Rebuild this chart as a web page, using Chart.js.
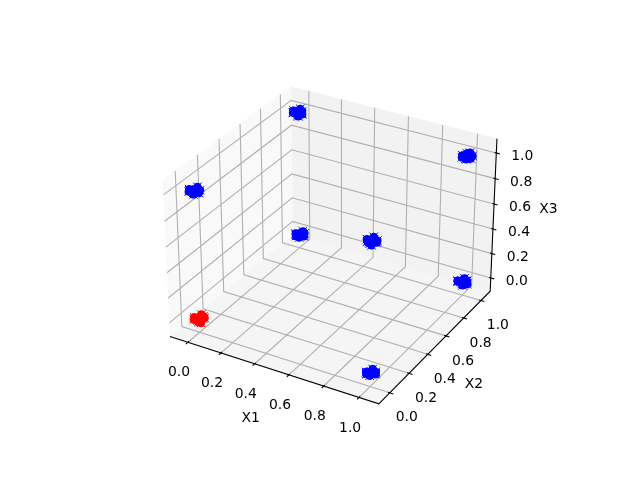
<!DOCTYPE html>
<html>
<head>
<meta charset="utf-8">
<style>
  html, body { margin: 0; padding: 0; background: #fff; }
  canvas { display: block; }
</style>
<script src="https://cdn.jsdelivr.net/npm/chart.js@4/dist/chart.umd.min.js"></script>
</head>
<body>
<canvas id="myChart" width="640" height="480"></canvas>
<script>
// values, one row per cluster
const redX1 = [0.00, 0.02, -0.02, 0.01, -0.01, 0.02, -0.02, 0.00, 0.01, -0.01, 0.02, -0.02, 0.00, 0.015];
const redX2 = [0.00, 0.01, 0.01, 0.02, -0.02, -0.015, -0.015, 0.02, -0.02, 0.00, 0.02, -0.02, -0.01, 0.00];
const redX3 = [0.00, 0.02, -0.02, -0.01, 0.01, -0.015, 0.015, 0.02, 0.02, -0.02, 0.00, 0.00, -0.02, 0.015];

const blueX1 = [
  0.01, 0.02, -0.02, 0.00, -0.015, 0.02, -0.02, 0.005, 0.015, -0.01, 0.02, -0.02, 0.00, 0.01,
  -0.01, 0.02, -0.015, 0.01, -0.02, 0.015, -0.02, 0.00, 0.02, -0.005, 0.01, -0.02, 0.005, 0.015,
  0.00, 0.02, -0.02, 0.015, -0.01, 0.02, -0.015, 0.01, 0.005, -0.02, 0.02, -0.01, 0.00, 0.01,
  1.00, 1.02, 0.98, 1.01, 0.99, 1.02, 0.98, 1.00, 1.015, 0.99, 1.02, 0.985, 1.005, 1.01,
  1.01, 1.02, 0.98, 1.00, 0.985, 1.015, 0.98, 1.005, 1.02, 0.99, 1.02, 0.98, 1.00, 0.995,
  0.99, 1.02, 0.985, 1.01, 0.98, 1.02, 0.98, 1.00, 1.01, 0.995, 1.015, 0.98, 1.005, 1.02,
  1.00, 1.015, 0.98, 1.02, 0.99, 1.02, 0.985, 1.005, 1.01, 0.98, 1.02, 0.99, 1.00, 1.01
];
const blueX2 = [
  0.00, -0.01, 0.015, 0.02, -0.02, 0.01, -0.015, 0.02, -0.02, 0.005, 0.02, -0.02, -0.01, 0.00,
  1.01, 0.99, 1.02, 1.02, 0.98, 1.015, 0.985, 1.02, 0.98, 1.00, 1.02, 0.98, 0.99, 1.00,
  1.00, 0.99, 1.01, 1.02, 0.98, 1.015, 0.985, 1.02, 0.98, 1.005, 1.02, 0.98, 0.995, 1.01,
  0.00, -0.015, 0.01, 0.02, -0.02, 0.015, -0.01, 0.02, -0.02, 0.00, 0.02, -0.015, -0.01, 0.005,
  1.00, 0.99, 1.015, 1.02, 0.98, 1.01, 0.985, 1.02, 0.985, 1.00, 1.02, 0.98, 0.99, 1.005,
  1.01, 0.99, 1.01, 1.02, 0.98, 1.015, 0.98, 1.02, 0.98, 1.00, 1.02, 0.985, 0.99, 1.00,
  0.01, -0.01, 0.01, 0.02, -0.02, 0.015, -0.015, 0.015, -0.02, 0.00, 0.02, -0.02, -0.005, 0.00
];
const blueX3 = [
  1.00, 1.02, 0.98, 0.99, 1.01, 0.985, 1.015, 1.02, 1.02, 0.98, 1.00, 1.00, 0.98, 1.015,
  1.00, 1.02, 0.98, 0.99, 1.01, 0.985, 1.02, 1.02, 1.015, 0.98, 1.00, 1.005, 0.98, 1.01,
  0.00, 0.015, -0.02, -0.01, 0.01, -0.015, 0.015, 0.02, 0.02, -0.02, 0.005, 0.00, -0.02, 0.01,
  1.00, 1.02, 0.98, 0.985, 1.01, 0.99, 1.015, 1.02, 1.02, 0.98, 1.00, 1.005, 0.98, 1.015,
  1.005, 1.02, 0.98, 0.99, 1.015, 0.985, 1.01, 1.02, 1.015, 0.98, 1.00, 1.00, 0.985, 1.02,
  0.00, 0.02, -0.015, -0.01, 0.01, -0.02, 0.015, 0.015, 0.02, -0.02, 0.00, 0.005, -0.02, 0.015,
  0.00, 0.02, -0.02, -0.01, 0.015, -0.015, 0.01, 0.02, 0.02, -0.015, 0.00, 0.00, -0.02, 0.01
];

const tickValues = [0.0, 0.2, 0.4, 0.6, 0.8, 1.0];
const tickLabels = ["0.0", "0.2", "0.4", "0.6", "0.8", "1.0"];
const x1Limits = [-0.11, 1.11];
const x2Limits = [-0.11, 1.11];
const x3Limits = [-0.11, 1.11];

// 3d view, same maths as a mplot3d camera at elev 30, azim -60
const box = [1.143, 1.143, 0.857];
const dist = 10;
const viewScale = 2141;
const viewX = 333.2;
const viewY = 237.8;
const camN = [0.4330127, -0.75, 0.5];
const camU = [0.8660254, 0.5, 0];
const camV = [-0.25, 0.4330127, 0.8660254];

function project(x1, x2, x3) {
  var d = [
    ((x1 - x1Limits[0]) / (x1Limits[1] - x1Limits[0]) - 0.5) * box[0],
    ((x2 - x2Limits[0]) / (x2Limits[1] - x2Limits[0]) - 0.5) * box[1],
    ((x3 - x3Limits[0]) / (x3Limits[1] - x3Limits[0]) - 0.5) * box[2]
  ];
  var depth = dist - (camN[0] * d[0] + camN[1] * d[1] + camN[2] * d[2]);
  var u = camU[0] * d[0] + camU[1] * d[1] + camU[2] * d[2];
  var v = camV[0] * d[0] + camV[1] * d[1] + camV[2] * d[2];
  return { x: viewX + viewScale * u / depth, y: viewY - viewScale * v / depth };
}

const x1a = x1Limits[0], x1b = x1Limits[1];
const x2a = x2Limits[0], x2b = x2Limits[1];
const x3a = x3Limits[0], x3b = x3Limits[1];
const gap = { x: NaN, y: NaN };

function poly(list) {
  return list.map(function (p) { return project(p[0], p[1], p[2]); });
}

function cloud(xs, ys, zs) {
  return xs.map(function (v, i) { return project(v, ys[i], zs[i]); });
}

var gridPts = [];
var tickPts = [];
tickValues.forEach(function (t) {
  gridPts.push(project(t, x2a, x3a), project(t, x2b, x3a), project(t, x2b, x3b), gap);
  gridPts.push(project(x1b, t, x3a), project(x1a, t, x3a), project(x1a, t, x3b), gap);
  gridPts.push(project(x1a, x2a, t), project(x1a, x2b, t), project(x1b, x2b, t), gap);
  tickPts.push(project(t, x2a + 0.01, x3a), project(t, x2a - 0.02, x3a), gap);
  tickPts.push(project(x1b - 0.01, t, x3a), project(x1b + 0.02, t, x3a), gap);
  tickPts.push(project(x1b - 0.01, x2b, t), project(x1b + 0.02, x2b, t), gap);
});

function pane(list, color) {
  return {
    data: poly(list),
    showLine: true,
    fill: "shape",
    backgroundColor: color,
    borderColor: color,
    borderWidth: 0.5,
    pointRadius: 0,
    order: 5
  };
}

function lines(data, color, width, order) {
  return {
    data: data,
    showLine: true,
    fill: false,
    borderColor: color,
    borderWidth: width,
    pointRadius: 0,
    spanGaps: false,
    order: order
  };
}

// x markers on top of a round core, the reference blobs are solid with jagged edges
function marks(data, color) {
  return {
    data: data,
    showLine: false,
    pointStyle: "crossRot",
    pointRadius: 6,
    pointBorderWidth: 1,
    pointBorderColor: color,
    pointBackgroundColor: color,
    order: 1
  };
}

function core(data, color) {
  return {
    data: data,
    showLine: false,
    pointStyle: "circle",
    pointRadius: 4.2,
    pointBorderWidth: 0,
    pointBackgroundColor: color,
    order: 2
  };
}

const axisText = {
  id: "axisText",
  afterDatasetsDraw(chart) {
    var ctx = chart.ctx;
    var sx = chart.scales.x, sy = chart.scales.y;
    function put(text, p, dx, dy) {
      ctx.fillText(text, sx.getPixelForValue(p.x) + dx, sy.getPixelForValue(p.y) + dy);
    }
    ctx.save();
    ctx.fillStyle = "#000";
    ctx.font = '13.9px "DejaVu Sans"';
    ctx.textAlign = "center";
    ctx.textBaseline = "middle";
    tickValues.forEach(function (t, i) {
      put(tickLabels[i], project(t, x2a, x3a), -9, 30.5);
      put(tickLabels[i], project(x1b, t, x3a), 17, 25);
      put(tickLabels[i], project(x1b, x2b, t), 26, 3.5);
    });
    put("X1", project(0.5, x2a, x3a), -21, 49);
    put("X2", project(x1b, 0.5, x3a), 37, 39);
    put("X3", project(x1b, x2b, 0.5), 55, -7);
    ctx.restore();
  }
};

var chart = new Chart(document.getElementById("myChart").getContext("2d"), {
  type: "scatter",
  data: {
    datasets: [
      pane([[x1a, x2a, x3a], [x1a, x2b, x3a], [x1a, x2b, x3b], [x1a, x2a, x3b]], "#f9f9f9"),
      pane([[x1a, x2b, x3a], [x1b, x2b, x3a], [x1b, x2b, x3b], [x1a, x2b, x3b]], "#f2f2f2"),
      pane([[x1a, x2a, x3a], [x1b, x2a, x3a], [x1b, x2b, x3a], [x1a, x2b, x3a]], "#f5f5f5"),
      lines(gridPts, "#b0b0b0", 1.1, 4),
      lines(poly([[x1a, x2a, x3a], [x1b, x2a, x3a], [x1b, x2b, x3a], [x1b, x2b, x3b]]), "#000", 1.1, 3),
      lines(tickPts, "#000", 1.1, 3),
      core(cloud(blueX1, blueX2, blueX3), "#0000ff"),
      core(cloud(redX1, redX2, redX3), "#ff0000"),
      marks(cloud(blueX1, blueX2, blueX3), "#0000ff"),
      marks(cloud(redX1, redX2, redX3), "#ff0000")
    ]
  },
  options: {
    responsive: false,
    animation: false,
    layout: { padding: 0 },
    clip: false,
    events: [],
    plugins: { legend: { display: false }, tooltip: { enabled: false } },
    scales: {
      x: { type: "linear", display: false, min: 0, max: 640 },
      y: { type: "linear", display: false, min: 0, max: 480, reverse: true }
    }
  },
  plugins: [axisText]
});
</script>
</body>
</html>
